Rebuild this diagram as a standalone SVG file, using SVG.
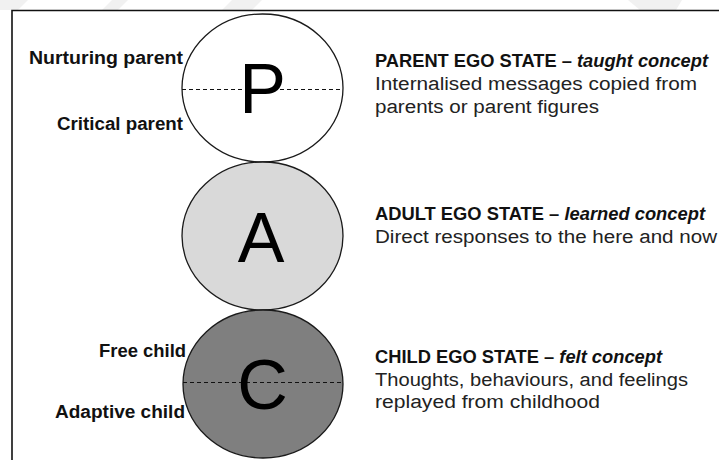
<svg xmlns="http://www.w3.org/2000/svg" width="719" height="460" viewBox="0 0 719 460">
  <style>
    .frame { fill: none; stroke: #111; stroke-width: 1.6; }
    .stripe { fill: #f1f1f1; }
    .state { stroke: #1a1a1a; stroke-width: 1.3; }
    .split { stroke: #111; stroke-width: 1.1; stroke-dasharray: 4 3; fill: none; }
    .big { font-family: "Liberation Sans", Arial, sans-serif; font-size: 70px; fill: #000; text-anchor: middle; }
    .side { font-family: "Liberation Sans", Arial, sans-serif; font-size: 17.5px; font-weight: bold; fill: #111; text-anchor: end; }
    .head { font-family: "Liberation Sans", Arial, sans-serif; font-size: 18px; font-weight: bold; fill: #111; }
    .desc { font-family: "Liberation Sans", Arial, sans-serif; font-size: 18px; fill: #222; }
  </style>

  <rect width="719" height="460" fill="#fff"/>

  <!-- faint diagonal bands behind the frame -->
  <polygon class="stripe" points="0,0 28,0 18,10 0,10"/>
  <polygon class="stripe" points="112,0 128,0 118,10 102,10"/>
  <polygon class="stripe" points="232,0 262,0 252,10 222,10"/>
  <polygon class="stripe" points="628,0 682,0 676,10 640,10"/>

  <!-- frame -->
  <polyline class="frame" points="719,10.5 12,10.5 12,460"/>

  <!-- parent ego state -->
  <g id="parent">
    <ellipse class="state" cx="262.5" cy="88" rx="80.5" ry="74" fill="#fff"/>
    <line class="split" x1="182" y1="89.5" x2="343" y2="89.5"/>
    <text class="big" x="262.5" y="113">P</text>
    <text class="side" x="183" y="64" textLength="154" lengthAdjust="spacingAndGlyphs">Nurturing parent</text>
    <text class="side" x="183" y="130" textLength="126" lengthAdjust="spacingAndGlyphs">Critical parent</text>
    <text class="head" x="375" y="67" textLength="333" lengthAdjust="spacingAndGlyphs">PARENT EGO STATE – <tspan font-style="italic">taught concept</tspan></text>
    <text class="desc" x="375" y="90" textLength="322" lengthAdjust="spacingAndGlyphs">Internalised messages copied from</text>
    <text class="desc" x="375" y="113" textLength="224" lengthAdjust="spacingAndGlyphs">parents or parent figures</text>
  </g>

  <!-- adult ego state -->
  <g id="adult">
    <ellipse class="state" cx="262.5" cy="236" rx="80.5" ry="74" fill="#d9d9d9"/>
    <text class="big" x="261" y="262">A</text>
    <text class="head" x="375" y="220" textLength="330" lengthAdjust="spacingAndGlyphs">ADULT EGO STATE – <tspan font-style="italic">learned concept</tspan></text>
    <text class="desc" x="375" y="243" textLength="342" lengthAdjust="spacingAndGlyphs">Direct responses to the here and now</text>
  </g>

  <!-- child ego state -->
  <g id="child">
    <ellipse class="state" cx="263" cy="384" rx="80" ry="74" fill="#7f7f7f"/>
    <line class="split" x1="183" y1="382.5" x2="343" y2="382.5"/>
    <text class="big" x="262.5" y="409">C</text>
    <text class="side" x="186" y="357" textLength="87" lengthAdjust="spacingAndGlyphs">Free child</text>
    <text class="side" x="185" y="418" textLength="130" lengthAdjust="spacingAndGlyphs">Adaptive child</text>
    <text class="head" x="375" y="363" textLength="287" lengthAdjust="spacingAndGlyphs">CHILD EGO STATE – <tspan font-style="italic">felt concept</tspan></text>
    <text class="desc" x="375" y="386" textLength="313" lengthAdjust="spacingAndGlyphs">Thoughts, behaviours, and feelings</text>
    <text class="desc" x="375" y="408" textLength="225" lengthAdjust="spacingAndGlyphs">replayed from childhood</text>
  </g>

  <!-- connectors: none; the three states touch directly -->
  <g id="connectors"/>
</svg>
